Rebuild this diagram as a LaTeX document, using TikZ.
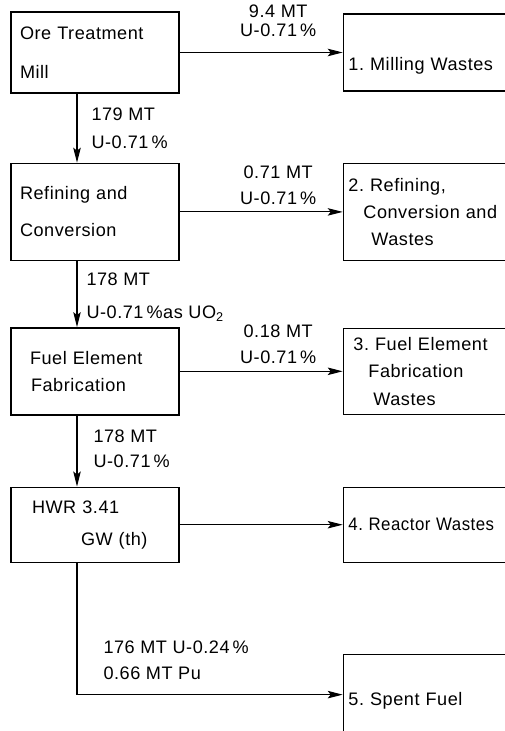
\documentclass[tikz,border=0pt]{standalone}
\usepackage{fontspec}
\setmainfont[LetterSpace=3]{Liberation Sans}
\usetikzlibrary{arrows.meta,positioning}

\begin{document}
\frenchspacing
\begin{tikzpicture}[
  box/.style={draw, rectangle, line width=0.8pt,
              minimum width=3.36cm, text width=3.0cm, inner xsep=0.18cm,
              align=left, font=\fontsize{10.3}{15.5}\selectfont},
  waste/.style={box, minimum width=3.24cm, text width=3.04cm, inner xsep=0.1cm},
  arr/.style={-{Stealth[length=0.3cm,width=0.15cm,inset=0.06cm]}, line width=0.6pt},
  flow/.style={font=\fontsize{10.3}{15.5}\selectfont, inner sep=0pt},
  hlbl/.style={flow, above, align=center, xshift=0.34cm},
  vlbl/.style={flow, right, align=left},
  node distance=1.4cm
]
  \useasboundingbox (0,0) rectangle (10.08,-14.62);

  %% Process steps
  \node[box, minimum height=1.62cm] (mill) at (1.9,-1.05)
    {Ore Treatment\\[6.7pt]Mill};
  \node[box, minimum height=1.94cm, below=1.38cm of mill] (refine)
    {Refining and\\[5.5pt]Conversion};
  \node[box, minimum height=1.74cm, below=1.32cm of refine] (fab)
    {\hspace*{0.2cm}Fuel Element\\\hspace*{0.22cm}Fabrication};
  \node[box, minimum height=1.5cm, below=1.42cm of fab] (hwr)
    {\hspace*{0.24cm}HWR 3.41\\[2.7pt]\hspace*{1.22cm}GW (th)};

  %% Wastes
  \node[waste, minimum height=1.54cm, right=3.26cm of mill,
        text height=0.74cm, text depth=0cm] (millw)
    {\mbox{1. Milling Wastes}};
  \node[waste, minimum height=1.94cm, right=3.26cm of refine] (refw)
    {\mbox{2. Refining,}\\\hspace*{0.3cm}\mbox{Conversion and}\\\hspace*{0.46cm}Wastes};
  \node[waste, minimum height=1.72cm, right=3.26cm of fab] (fabw)
    {\hspace*{0.1cm}\mbox{3. Fuel Element}\\\hspace*{0.4cm}Fabrication\\\hspace*{0.5cm}Wastes};
  \node[waste, minimum height=1.5cm, right=3.26cm of hwr] (reactw)
    {\scalebox{0.93}[1]{4. Reactor Wastes}};
  \node[waste, minimum height=1.6cm, below=1.82cm of reactw,
        text height=0.42cm, text depth=0cm] (spentw)
    {\mbox{5. Spent Fuel}};

  %% Arrows
  \draw[arr] (mill) -- node[hlbl, yshift=0.3cm]
    {9.4 MT\\[-4.7pt]U-0.71\,\%} (millw);
  \draw[arr] (refine) -- node[hlbl, yshift=0.14cm]
    {0.71 MT\\[-0.7pt]U-0.71\,\%} (refw);
  \draw[arr] (fab) -- node[hlbl, yshift=0.14cm]
    {0.18 MT\\[-0.7pt]U-0.71\,\%} (fabw);
  \draw[arr] (hwr) -- (reactw);

  \draw[arr] ([xshift=-0.36cm]mill.south) -- node[vlbl, xshift=0.28cm]
    {179 MT\\U-0.71\,\%} ([xshift=-0.36cm]refine.north);
  \draw[arr] ([xshift=-0.36cm]refine.south) -- node[vlbl, xshift=0.18cm, yshift=-0.06cm]
    {178 MT\\[3.8pt]U-0.71\,\%as UO\textsubscript{2}} ([xshift=-0.36cm]fab.north);
  \draw[arr] ([xshift=-0.36cm]fab.south) -- node[vlbl, xshift=0.32cm, yshift=0.05cm]
    {178 MT\\[-1.3pt]U-0.71\,\%} ([xshift=-0.36cm]hwr.north);
  \draw[arr] ([xshift=-0.36cm]hwr.south) |- node[pos=0.5, flow, above right, align=left,
      xshift=0.52cm, yshift=0.28cm]
    {176 MT U-0.24\,\%\\[-0.7pt]0.66 MT Pu} (spentw);

\end{tikzpicture}
\end{document}
